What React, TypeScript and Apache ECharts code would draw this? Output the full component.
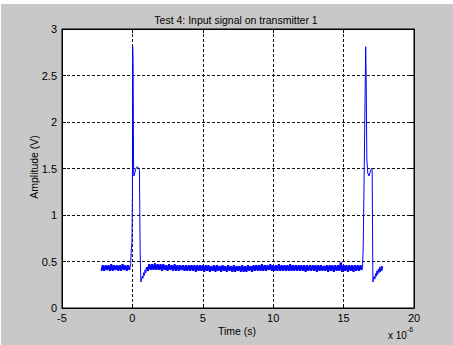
import React, { useEffect, useRef } from "react";
import * as echarts from "echarts";

// Axis ranges / ticks
const xMin = -5;
const xMax = 20;
const xStep = 5;
const yMin = 0;
const yMax = 3;
const yStep = 0.5;

const titleText = "Test 4: Input signal on transmitter 1";
const xName = "Time (s)";
const yName = "Amplitude (V)";

// Sample period of the uniformly sampled baseline segments (in 1e-6 s)
const samplePeriod = 0.1;

// Baseline before the first pulse, starting at t = -2.2
const baseline1Start = -2.2;
const baseline1 = [
  0.40, 0.46, 0.40, 0.46, 0.41, 0.46, 0.40, 0.47, 0.40, 0.46, 0.41, 0.46, 0.40,
  0.46, 0.40, 0.47, 0.41, 0.46, 0.40, 0.46, 0.41,
];

// First pulse [t, V]
const pulse1: [number, number][] = [
  [-0.12, 0.48], [-0.08, 0.62], [-0.03, 0.7], [0.0, 1.2], [0.02, 2.81],
  [0.05, 2.6], [0.08, 1.6], [0.1, 1.42], [0.15, 1.44], [0.25, 1.5],
  [0.35, 1.52], [0.45, 1.5], [0.5, 1.48], [0.55, 0.6], [0.6, 0.28],
  [0.65, 0.31], [0.7, 0.34], [0.75, 0.32], [0.8, 0.38], [0.85, 0.35],
  [0.9, 0.41], [0.95, 0.38],
];

// Baseline between the pulses, starting at t = 1.0
const baseline2Start = 1.0;
const baseline2 = [
  0.44, 0.40, 0.47, 0.41, 0.47, 0.41, 0.48, 0.41, 0.47, 0.41,
  0.47, 0.40, 0.47, 0.41, 0.46, 0.40, 0.47, 0.41, 0.46, 0.40,
  0.47, 0.40, 0.46, 0.40, 0.46, 0.41, 0.46, 0.40, 0.46, 0.40,
  0.46, 0.40, 0.46, 0.40, 0.46, 0.39, 0.46, 0.40, 0.46, 0.40,
  0.46, 0.39, 0.46, 0.40, 0.46, 0.39, 0.45, 0.40, 0.46, 0.39,
  0.46, 0.40, 0.45, 0.39, 0.46, 0.40, 0.45, 0.39, 0.46, 0.40,
  0.45, 0.39, 0.46, 0.39, 0.45, 0.40, 0.45, 0.39, 0.46, 0.39,
  0.45, 0.39, 0.46, 0.40, 0.45, 0.39, 0.46, 0.40, 0.46, 0.40,
  0.46, 0.40, 0.47, 0.40, 0.46, 0.40, 0.46, 0.41, 0.47, 0.40,
  0.46, 0.40, 0.46, 0.40, 0.47, 0.40, 0.46, 0.40, 0.46, 0.40,
  0.46, 0.40, 0.47, 0.40, 0.46, 0.40, 0.46, 0.40, 0.46, 0.40,
  0.46, 0.40, 0.46, 0.39, 0.46, 0.40, 0.46, 0.40, 0.46, 0.40,
  0.46, 0.39, 0.46, 0.40, 0.46, 0.40, 0.45, 0.40, 0.46, 0.39,
  0.46, 0.40, 0.46, 0.39, 0.46, 0.40, 0.46, 0.40, 0.49, 0.39,
  0.46, 0.40, 0.46, 0.39, 0.46, 0.40, 0.46, 0.39, 0.46, 0.40,
  0.46, 0.40, 0.46, 0.41,
];

// Second pulse [t, V]
const pulse2: [number, number][] = [
  [16.35, 0.45], [16.4, 0.7], [16.57, 2.81], [16.6, 2.5], [16.65, 1.6],
  [16.72, 1.45], [16.8, 1.42], [16.88, 1.46], [16.98, 1.5], [17.03, 1.48],
  [17.08, 0.28], [17.12, 0.31], [17.17, 0.34], [17.22, 0.31], [17.27, 0.37],
  [17.32, 0.34], [17.37, 0.4], [17.42, 0.36], [17.47, 0.42], [17.52, 0.38],
  [17.57, 0.44], [17.62, 0.39], [17.67, 0.45], [17.72, 0.4], [17.78, 0.45],
];

function sampled(start: number, values: number[]): [number, number][] {
  return values.map((v, i) => [+(start + i * samplePeriod).toFixed(3), v] as [number, number]);
}

const FONT = "'Liberation Sans', Arial, sans-serif";
const BLUE = "#0000ff";

export default function App() {
  const ref = useRef<HTMLDivElement>(null);
  useEffect(() => {
    if (!ref.current) return;
    const chart = echarts.init(ref.current, undefined, { renderer: "svg" });
    const grid = { left: 62, right: 39, top: 29, bottom: 37 };
    const splitLine = {
      show: true,
      lineStyle: { color: "#111", width: 1, type: [3, 2] as any },
    };
    const tick = { show: true, inside: true, length: 4, lineStyle: { color: "#000" } };
    const line = { show: true, onZero: false, lineStyle: { color: "#000" } };
    const b1 = sampled(baseline1Start, baseline1);
    const b2 = sampled(baseline2Start, baseline2);
    const trace: [number, number][] = [...b1, ...pulse1, ...b2, ...pulse2];
    const lineSeries = (data: [number, number][], width: number) => ({
      type: "line",
      data,
      showSymbol: false,
      symbol: "none",
      lineStyle: { color: BLUE, width },
      itemStyle: { color: BLUE },
      z: 3,
    });
    chart.setOption({
      animation: false,
      backgroundColor: "#c8c8c8",
      textStyle: { fontFamily: FONT },
      grid: {
        ...grid,
        show: true,
        backgroundColor: "#ffffff",
        borderColor: "#000",
        borderWidth: 1,
      },
      xAxis: [
        {
          type: "value",
          min: xMin,
          max: xMax,
          interval: xStep,
          axisLine: line,
          axisTick: tick,
          axisLabel: { color: "#000", fontSize: 11, fontFamily: FONT, margin: 4 },
          splitLine,
        },
        {
          type: "value",
          position: "top",
          min: xMin,
          max: xMax,
          interval: xStep,
          axisLine: line,
          axisTick: tick,
          axisLabel: { show: false },
          splitLine: { show: false },
        },
      ],
      yAxis: [
        {
          type: "value",
          min: yMin,
          max: yMax,
          interval: yStep,
          axisLine: line,
          axisTick: tick,
          axisLabel: { color: "#000", fontSize: 11, fontFamily: FONT, margin: 5 },
          splitLine,
        },
        {
          type: "value",
          position: "right",
          min: yMin,
          max: yMax,
          interval: yStep,
          axisLine: line,
          axisTick: tick,
          axisLabel: { show: false },
          splitLine: { show: false },
        },
      ],
      series: [lineSeries(trace, 1), lineSeries(b1, 2), lineSeries(b2, 2)],
      graphic: [
        { type: "rect", shape: { x: 0, y: 0, width: 453, height: 4 }, style: { fill: "#fff" }, silent: true },
        { type: "rect", shape: { x: 0, y: 0, width: 1, height: 345 }, style: { fill: "#fff" }, silent: true },
        {
          type: "text",
          x: 236,
          y: 20,
          style: {
            text: titleText,
            fontSize: 10.5,
            fontFamily: FONT,
            fill: "#000",
            align: "center",
            verticalAlign: "middle",
          },
        },
        {
          type: "text",
          x: 237,
          y: 331,
          style: {
            text: xName,
            fontSize: 10.5,
            fontFamily: FONT,
            fill: "#000",
            align: "center",
            verticalAlign: "middle",
          },
        },
        {
          type: "text",
          x: 388,
          y: 335,
          style: {
            text: "x 10{sup|-6}",
            fontSize: 10,
            fontFamily: FONT,
            fill: "#000",
            align: "left",
            verticalAlign: "middle",
            rich: {
              sup: { fontSize: 7, fontFamily: FONT, fill: "#000", verticalAlign: "bottom", padding: [0, 0, 12, 0] },
            },
          },
        },
        {
          type: "text",
          x: 34,
          y: 167,
          rotation: Math.PI / 2,
          style: {
            text: yName,
            fontSize: 10.5,
            fontFamily: FONT,
            fill: "#000",
            align: "center",
            verticalAlign: "middle",
          },
        },
      ],
    });
    return () => chart.dispose();
  }, []);
  return (
    <div
      ref={ref}
      style={{ position: "fixed", left: 0, top: 0, width: 453, height: 345 }}
    />
  );
}
